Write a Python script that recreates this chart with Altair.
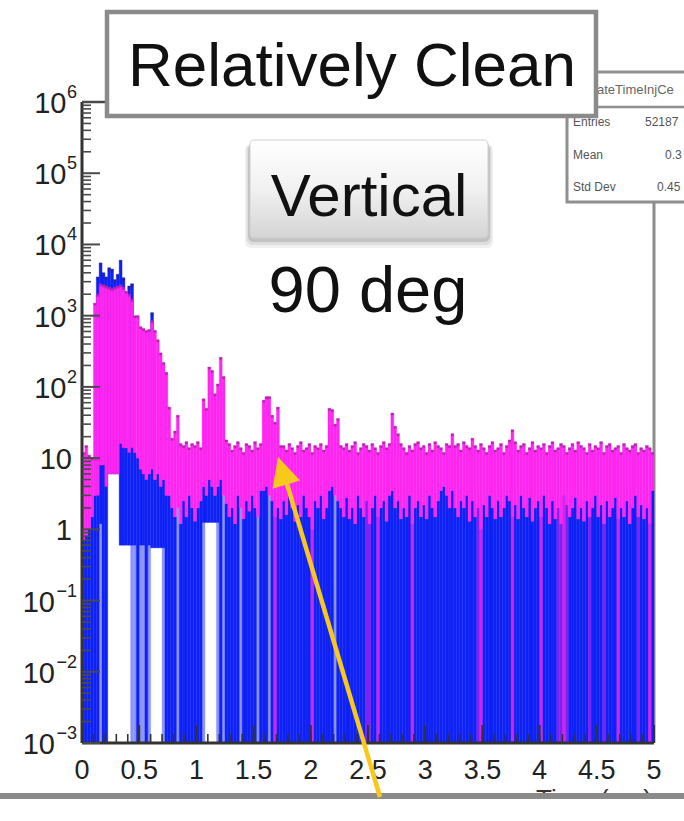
import altair as alt
import pandas as pd

# ---------------------------------------------------------------------------
# Histogram contents: 200 bins of 0.025 ms between 0 and 5 ms
# ---------------------------------------------------------------------------
BIN_WIDTH = 0.025
N_BINS = 200

# top of the magenta histogram, per bin
magenta_counts = [
    12, 15, 11, 10, 1500, 2000, 2800, 2700, 2600, 2500,      # 0
    2400, 2500, 2600, 2700, 2500, 2200, 2000, 1700, 1000, 1000,  # 10
    700, 660, 620, 640, 850, 620, 460, 300, 220, 160,       # 20
    52, 19, 24, 40, 16, 15, 17, 14, 16, 15,                 # 30
    17, 14, 68, 50, 190, 170, 80, 110, 260, 140,            # 40
    18, 16, 13, 15, 17, 14, 12, 16, 15, 13,                 # 50
    17, 14, 16, 65, 73, 73, 40, 32, 52, 15,                 # 60
    15, 13, 16, 14, 12, 15, 17, 13, 14, 16,                 # 70
    12, 15, 14, 16, 13, 15, 50, 48, 30, 36,                 # 80
    15, 14, 16, 13, 15, 17, 12, 14, 16, 15,                 # 90
    13, 16, 14, 12, 15, 17, 14, 16, 43, 28,                 # 100
    22, 16, 14, 12, 15, 13, 16, 17, 14, 15,                 # 110
    12, 16, 13, 17, 15, 14, 12, 16, 15, 22,                 # 120
    15, 16, 13, 17, 15, 14, 19, 15, 13, 16,                 # 130
    14, 12, 15, 17, 13, 14, 16, 12, 15, 18,                 # 140
    25, 17, 13, 15, 16, 12, 14, 17, 13, 15,                 # 150
    14, 16, 12, 15, 17, 13, 14, 16, 15, 12,                 # 160
    14, 16, 13, 17, 15, 14, 12, 16, 13, 15,                 # 170
    14, 17, 12, 15, 16, 13, 14, 15, 12, 16,                 # 180
    14, 13, 15, 16, 12, 14, 13, 15, 14, 12,                 # 190
]

# top of the blue histogram underneath the magenta one, per bin
blue_counts = [
    0.7, 0.8, 1.0, 1.5, 3, 3, 8, 8, 4, 6,                   # 0
    6, 6, 6, 16, 14, 14, 12, 14, 12, 10,                    # 10
    7, 6, 5, 6, 7, 5, 6, 4, 5, 3,                           # 20
    3, 2, 1.5, 2, 1.2, 2.5, 1.5, 3, 2, 1.3,                 # 30
    2, 2.5, 4, 3, 5, 4, 3, 4, 5, 3,                         # 40
    2.3, 1.5, 2, 1.2, 3, 2, 1.4, 2.5, 1.8, 3,               # 50
    2, 1.5, 3.5, 3.5, 4, 3, 2.5, 1.5, 2, 1.4,               # 60
    2.5, 1.6, 3, 2, 1.3, 2.2, 1.5, 3, 2, 1.5,               # 70
    1, 2.5, 2, 3, 1.4, 2, 3.5, 4, 3, 2.5,                   # 80
    2, 1.5, 2.8, 1.4, 2, 1.2, 3, 2, 1.5, 2.5,               # 90
    1.2, 2, 3, 1.5, 2, 2.5, 1.3, 3, 3.5, 2,                 # 100
    2.5, 1.4, 2, 1.5, 3, 1.2, 2, 2.5, 1.5, 2.2,             # 110
    1.4, 3, 2, 1.5, 2.5, 3.5, 4, 3, 2, 3.5,                 # 120
    2, 1.5, 2.5, 2, 3, 1.3, 2.5, 1.5, 2, 1,                 # 130
    2.2, 1.5, 3, 2, 1.4, 2.5, 1.5, 2, 3, 2.5,               # 140
    1.5, 2.2, 1.4, 3, 2, 1.5, 2.8, 1.3, 2, 2.5,             # 150
    1.5, 3, 2, 1.2, 2.5, 1.4, 2, 1.2, 3, 2.2,               # 160
    1.5, 2, 2.8, 1.4, 2, 1.3, 2.5, 1.5, 2, 3,               # 170
    1.5, 2.2, 1.2, 2.5, 1.5, 2, 2.8, 1.4, 2, 1.5,           # 180
    2.5, 1.2, 2, 3, 1.5, 2.2, 1.4, 2, 1.2, 3.5,             # 190
]

# bins where the blue histogram rises above the magenta one
blue_peaks = {5: 3500, 6: 5500, 7: 4000, 8: 3500, 9: 4700, 10: 4500,
              11: 3200, 12: 3800, 13: 6000, 14: 3400, 16: 2600, 17: 2800,
              24: 1100}

# bins whose filled column does not reach the bottom of the frame
gap_floor = {6: 1.2, 9: 6, 10: 6, 11: 6, 12: 6,
             13: 0.6, 14: 0.6, 15: 0.6, 16: 0.6, 17: 0.6, 18: 0.6,
             20: 0.6, 21: 0.6, 23: 0.6,
             24: 0.55, 25: 0.55, 26: 0.55, 27: 0.55, 28: 0.55,
             42: 1.25, 43: 1.25, 44: 1.25, 45: 1.25, 46: 1.25, 47: 1.25}

# bins drawn in a paler blue (partly empty columns)
faint_bins = [6, 17, 18, 20, 21, 23, 28, 33, 42, 47, 49, 55, 61, 65, 88]

# bins where magenta entries reach down to the bottom
magenta_stripes = [67, 80, 103, 115, 139, 150, 160, 168, 187, 198]
violet_stripes = [99, 100, 138, 166, 167, 169, 177, 182, 194]

# axis ticks and labels
x_major_ticks = [0, 0.5, 1, 1.5, 2, 2.5, 3, 3.5, 4, 4.5, 5]
x_tick_labels = ["0", "0.5", "1", "1.5", "2", "2.5", "3", "3.5", "4", "4.5", "5"]
x_minor_step = 0.1
y_decades = [-3, -2, -1, 0, 1, 2, 3, 4, 5, 6]
y_label_base = ["10", "10", "10", "1", "10", "10", "10", "10", "10", "10"]
y_label_exp = ["\u22123", "\u22122", "\u22121", "", "", "2", "3", "4", "5", "6"]

Y_MIN, Y_MAX = 1e-3, 1e6

# ---------------------------------------------------------------------------
# Layout (pixel geometry of the frame and the annotations)
# ---------------------------------------------------------------------------
LEFT, TOP = 82, 102
W, H = 572, 641
PAGE_W, PAGE_H = 684, 821
FONT = "Liberation Sans"

BLUE = "#0f22f5"
LIGHT_BLUE = "#8d95f6"
MAGENTA = "#ff26f0"
YELLOW = "#f8c81c"

xs = alt.Scale(domain=[0, 5], nice=False, zero=False)
ys = alt.Scale(type="log", domain=[Y_MIN, Y_MAX], nice=False)


def px(x):
    return x - LEFT


def py(y):
    return y - TOP


ONE = pd.DataFrame({"k": [0]})


def bars(rows, color, opacity=1.0):
    df = pd.DataFrame(rows, columns=["x0", "x1", "lo", "hi"])
    return alt.Chart(df).mark_rect(
        color=color, opacity=opacity, stroke=color, strokeWidth=0.4,
        strokeOpacity=opacity
    ).encode(
        x=alt.X("x0:Q", scale=xs, axis=None),
        x2="x1:Q",
        y=alt.Y("lo:Q", scale=ys, axis=None),
        y2="hi:Q",
    )


def edges(i):
    return i * BIN_WIDTH, (i + 1) * BIN_WIDTH


faint_rows, blue_rows, mag_rows, stripe_rows, violet_rows, cap_rows = [], [], [], [], [], []
for i in range(N_BINS):
    x0, x1 = edges(i)
    b = blue_counts[i]
    m = magenta_counts[i]
    if i in faint_bins:
        faint_rows.append((x0, x1, Y_MIN, gap_floor.get(i, b)))
    if i not in faint_bins or i in gap_floor:
        lo = gap_floor.get(i, Y_MIN)
        hi = max(b, blue_peaks.get(i, 0))
        if hi > lo:
            blue_rows.append((x0, x1, lo, hi))
    if i in blue_peaks:
        cap_rows.append((x0, x1, blue_peaks[i] * 0.9, blue_peaks[i]))
    mag_rows.append((x0, x1, b, m))
    cap_rows.append((x0, x1, m * 0.93, m))
    if i in magenta_stripes:
        stripe_rows.append((x0, x1, Y_MIN, b))
    if i in violet_stripes:
        violet_rows.append((x0, x1, Y_MIN, b))

layers = []

# right edge of the frame (grey), under the histograms
layers.append(alt.Chart(ONE).mark_rule(color="#8c8c8c", strokeWidth=3).encode(
    x=alt.value(W), y=alt.value(py(200)), y2=alt.value(H)))

layers.append(bars(faint_rows, LIGHT_BLUE))
layers.append(bars(blue_rows, BLUE))
layers.append(bars(mag_rows, MAGENTA))
layers.append(bars(stripe_rows, MAGENTA, 0.8))
layers.append(bars(violet_rows, MAGENTA, 0.45))
layers.append(bars(cap_rows, "#3c1e4a", 0.35))

# frame lines
layers.append(alt.Chart(ONE).mark_rule(color="#333333", strokeWidth=3).encode(
    x=alt.value(0), y=alt.value(0), y2=alt.value(H)))
layers.append(alt.Chart(ONE).mark_rule(color="#333333", strokeWidth=3).encode(
    x=alt.value(0), x2=alt.value(W), y=alt.value(H)))
layers.append(alt.Chart(ONE).mark_rule(color="#444444", strokeWidth=2.5).encode(
    x=alt.value(0), x2=alt.value(W), y=alt.value(0)))

# y ticks (drawn inside the frame)
y_major = pd.DataFrame({"v": [10.0 ** d for d in y_decades]})
y_minor = pd.DataFrame({"v": [m * 10.0 ** d for d in y_decades[:-1] for m in range(2, 10)]})
layers.append(alt.Chart(y_major).mark_rule(color="#4a4a4a", strokeWidth=2).encode(
    y=alt.Y("v:Q", scale=ys, axis=None), x=alt.value(0), x2=alt.value(18)))
layers.append(alt.Chart(y_minor).mark_rule(color="#4a4a4a", strokeWidth=1.6).encode(
    y=alt.Y("v:Q", scale=ys, axis=None), x=alt.value(0), x2=alt.value(9)))

# x ticks
x_major = pd.DataFrame({"t": x_major_ticks, "label": x_tick_labels})
x_minor = pd.DataFrame({"t": [round(k * x_minor_step, 1) for k in range(0, 51)]})
layers.append(alt.Chart(x_major).mark_rule(color="#333333", strokeWidth=2).encode(
    x=alt.X("t:Q", scale=xs, axis=None), y=alt.value(H), y2=alt.value(H - 18)))
layers.append(alt.Chart(x_minor).mark_rule(color="#333333", strokeWidth=1.6).encode(
    x=alt.X("t:Q", scale=xs, axis=None), y=alt.value(H), y2=alt.value(H - 9)))

# x tick labels
layers.append(alt.Chart(x_major).mark_text(
    font=FONT, fontSize=27, color="#222222", baseline="alphabetic", align="center"
).encode(x=alt.X("t:Q", scale=xs, axis=None), y=alt.value(py(779)), text="label:N"))

# y tick labels: "10" with a superscript exponent, or plain numbers
ylab = pd.DataFrame({"v": [10.0 ** d for d in y_decades], "base": y_label_base, "exp": y_label_exp})
ylab["kind"] = ["plain" if e == "" else ("neg" if len(e) > 1 else "pos") for e in ylab["exp"]]
ylab_enc = dict(y=alt.Y("v:Q", scale=ys, axis=None))
for kind, right in [("plain", -10), ("pos", -15.5), ("neg", -27)]:
    layers.append(alt.Chart(ylab).transform_filter(alt.datum.kind == kind).mark_text(
        font=FONT, fontSize=29, color="#222222", align="right", baseline="middle", dy=2
    ).encode(x=alt.value(right), text="base:N", **ylab_enc))
layers.append(alt.Chart(ylab).transform_filter(alt.datum.kind != "plain").mark_text(
    font=FONT, fontSize=18, color="#222222", align="right", baseline="middle", dy=-9
).encode(x=alt.value(-5), text="exp:N", **ylab_enc))


# ---------------------------------------------------------------------------
# Annotations
# ---------------------------------------------------------------------------
def rect(x0, y0, x1, y1, **kw):
    return alt.Chart(ONE).mark_rect(**kw).encode(
        x=alt.value(px(x0)), x2=alt.value(px(x1)), y=alt.value(py(y0)), y2=alt.value(py(y1)))


def text(s, x, y, **kw):
    return alt.Chart(ONE).mark_text(text=s, font=FONT, **kw).encode(
        x=alt.value(px(x)), y=alt.value(py(y)))


# statistics box
layers.append(rect(567, 72, 720, 202, fill="white", stroke="#8f8f8f", strokeWidth=3))
layers.append(alt.Chart(ONE).mark_rule(color="#8f8f8f", strokeWidth=2.5).encode(
    x=alt.value(px(567)), x2=alt.value(px(720)), y=alt.value(py(107))))
layers.append(text("ateTimeInjCe", 597, 90, fontSize=13, color="#666666", align="left", baseline="middle"))
for lab, val, vx, yy in [("Entries", "52187", 645, 122), ("Mean", "0.3", 665, 155),
                         ("Std Dev", "0.45", 657, 187)]:
    layers.append(text(lab, 573, yy, fontSize=12, color="#555555", align="left", baseline="middle"))
    layers.append(text(val, vx, yy, fontSize=12, color="#555555", align="left", baseline="middle"))

# title box
layers.append(rect(107, 12, 596, 116, fill="white", stroke="#8a8a8a", strokeWidth=4.5))
layers.append(text("Relatively Clean", 352, 86, fontSize=62, color="#111111", align="center",
                   baseline="alphabetic"))

# "Vertical" button with a soft shadow
for off, op in [(10, 0.06), (7, 0.08), (4, 0.12)]:
    layers.append(rect(250 - off / 2, 144, 488 + off / 2, 238 + off, fill="#000000", opacity=op,
                       cornerRadius=6))
layers.append(rect(250, 140, 488, 238, cornerRadius=4, stroke="#cfcfcf", strokeWidth=1,
                   color=alt.LinearGradient(
                       gradient="linear", x1=0, x2=0, y1=0, y2=1,
                       stops=[alt.GradientStop(color="#ffffff", offset=0),
                              alt.GradientStop(color="#f1f1f1", offset=0.5),
                              alt.GradientStop(color="#d4d4d4", offset=1)])))
layers.append(text("Vertical", 369, 216, fontSize=60, color="#111111", align="center",
                   baseline="alphabetic"))
layers.append(text("90 deg", 368, 312, fontSize=65, color="#111111", align="center",
                   baseline="alphabetic"))

# axis title, partly hidden by the bar below it
layers.append(text("Time (ms)", 652, 808, fontSize=26, color="#333333", align="right",
                   baseline="alphabetic"))
layers.append(rect(-10, 798, 700, 830, fill="white"))
layers.append(rect(-10, 793, 700, 799, fill="#8a8a8a"))

# yellow arrow
layers.append(alt.Chart(ONE).mark_rule(color=YELLOW, strokeWidth=4.5).encode(
    x=alt.value(px(380)), y=alt.value(py(797)), x2=alt.value(px(287)), y2=alt.value(py(484))))
layers.append(alt.Chart(ONE).mark_point(
    shape="M0,-1L0.9,0.8L-0.9,0.8Z", filled=True, color=YELLOW, opacity=1,
    size=1024, angle=343.3, strokeWidth=0
).encode(x=alt.value(px(282.6)), y=alt.value(py(472.3))))

chart = alt.layer(*layers).properties(
    width=W, height=H,
    padding={"left": LEFT, "top": TOP, "right": PAGE_W - LEFT - W, "bottom": PAGE_H - TOP - H},
    autosize=alt.AutoSizeParams(type="none"),
    background="white",
).configure_view(stroke=None)

chart.save("out.html", embed_options={"renderer": "svg", "actions": False})
